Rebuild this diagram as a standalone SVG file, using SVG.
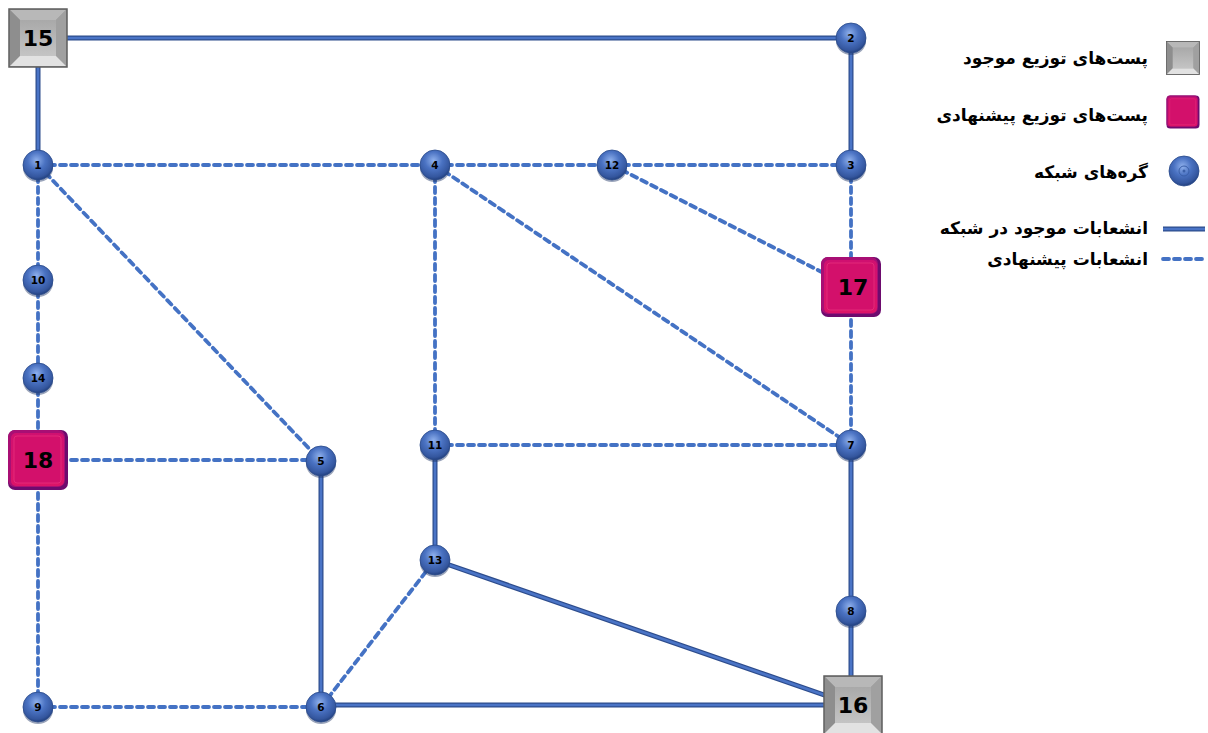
<svg xmlns="http://www.w3.org/2000/svg" width="1208" height="733" viewBox="0 0 1208 733">
<style>
.solid-o{stroke:#2d4c8c;stroke-width:5;fill:none}
.solid{stroke:#4a74c6;stroke-width:2.6;fill:none}
.dash{stroke:#4472c4;stroke-width:3.8;fill:none;stroke-dasharray:6 5;stroke-linecap:round}
.nl{font-family:"DejaVu Sans",sans-serif;font-weight:bold;font-size:10.5px;fill:#000;text-anchor:middle}
.sl{font-family:"DejaVu Sans",sans-serif;font-weight:bold;font-size:22px;fill:#000;text-anchor:middle}
.lg{font-family:"DejaVu Sans","Noto Sans",sans-serif;font-weight:bold;font-size:17px;fill:#000;text-anchor:end}
</style>
<defs>
<radialGradient id="ball" cx="0.45" cy="0.35" r="0.65">
<stop offset="0" stop-color="#8fb0ec"/>
<stop offset="0.45" stop-color="#4a72c2"/>
<stop offset="0.85" stop-color="#34569e"/>
<stop offset="1" stop-color="#22407e"/>
</radialGradient>
<linearGradient id="gface" x1="0" y1="0" x2="0" y2="1">
<stop offset="0" stop-color="#a9a9a9"/>
<stop offset="1" stop-color="#c4c4c4"/>
</linearGradient>
<linearGradient id="mface" x1="0" y1="0" x2="0" y2="1">
<stop offset="0" stop-color="#d01070"/>
<stop offset="1" stop-color="#dc1468"/>
</linearGradient>
<g id="node">
<ellipse cx="0" cy="3" rx="15" ry="14" fill="#1f3566" opacity="0.45"/>
<circle r="15" fill="url(#ball)" stroke="#2a4a8a" stroke-width="0.8"/>
</g>
<g id="gsq">
<rect x="-29" y="-29" width="58" height="58" fill="#9a9a9a" stroke="#5e5e5e" stroke-width="1.5"/>
<polygon points="-28,-28 28,-28 18,-18 -18,-18" fill="#b8b8b8"/>
<polygon points="-28,-28 -18,-18 -18,18 -28,28" fill="#8e8e8e"/>
<polygon points="28,-28 28,28 18,18 18,-18" fill="#a0a0a0"/>
<polygon points="-28,28 28,28 18,18 -18,18" fill="#e2e2e2"/>
<rect x="-18" y="-18" width="36" height="36" fill="url(#gface)"/>
</g>
<g id="msq">
<rect x="-30" y="-30" width="60" height="60" rx="7" fill="#6d0b6e"/>
<rect x="-30" y="-30" width="57" height="57" rx="7" fill="#a80f74"/>
<rect x="-27" y="-27" width="53" height="53" rx="5" fill="url(#mface)"/>
<rect x="-24" y="-24" width="47" height="47" rx="3" fill="#d3106b" stroke="#e8307e" stroke-width="0.8"/>
</g>
</defs>
<rect width="1208" height="733" fill="#fff"/>
<g id="connectors">
<g>
<path class="solid-o" d="M38,38H851M38,38V165M851,38V165M435,445V560M435,560L853,705M321,705H853M321,461V707M851,445V611M851,611V705"/>
<path class="solid" d="M38,38H851M38,38V165M851,38V165M435,445V560M435,560L853,705M321,705H853M321,461V707M851,445V611M851,611V705"/>
</g>
<path class="dash" d="M38,165H435M435,165H612M612,165H851M38,165V280M38,280V378M38,378V460M38,460V707M38,707H321M38,165L321,461M38,460H321M435,165V445M435,165L851,445M435,445H851M612,165L851,287M851,165V287M851,287V445M321,707L435,560"/>
</g>
<g id="n15"><use href="#gsq" x="38" y="38"/><text class="sl" x="38" y="46">15</text></g>
<g id="n16"><use href="#gsq" x="853" y="705"/><text class="sl" x="853" y="713">16</text></g>
<g id="n17"><use href="#msq" x="851" y="287"/><text class="sl" x="853" y="295">17</text></g>
<g id="n18"><use href="#msq" x="38" y="460"/><text class="sl" x="38" y="468">18</text></g>
<g id="n1"><use href="#node" x="38" y="165"/><text class="nl" x="38" y="169">1</text></g>
<g id="n2"><use href="#node" x="851" y="38"/><text class="nl" x="851" y="42">2</text></g>
<g id="n3"><use href="#node" x="851" y="165"/><text class="nl" x="851" y="169">3</text></g>
<g id="n4"><use href="#node" x="435" y="165"/><text class="nl" x="435" y="169">4</text></g>
<g id="n5"><use href="#node" x="321" y="461"/><text class="nl" x="321" y="465">5</text></g>
<g id="n6"><use href="#node" x="321" y="707"/><text class="nl" x="321" y="711">6</text></g>
<g id="n7"><use href="#node" x="851" y="445"/><text class="nl" x="851" y="449">7</text></g>
<g id="n8"><use href="#node" x="851" y="611"/><text class="nl" x="851" y="615">8</text></g>
<g id="n9"><use href="#node" x="38" y="707"/><text class="nl" x="38" y="711">9</text></g>
<g id="n10"><use href="#node" x="38" y="280"/><text class="nl" x="38" y="284">10</text></g>
<g id="n11"><use href="#node" x="435" y="445"/><text class="nl" x="435" y="449">11</text></g>
<g id="n12"><use href="#node" x="612" y="165"/><text class="nl" x="612" y="169">12</text></g>
<g id="n13"><use href="#node" x="435" y="560"/><text class="nl" x="435" y="564">13</text></g>
<g id="n14"><use href="#node" x="38" y="378"/><text class="nl" x="38" y="382">14</text></g>
<g id="legend">
<g transform="translate(1183,58) scale(0.57)"><use href="#gsq"/></g>
<text class="lg" x="1148" y="64">پست‌های توزیع موجود</text>
<g transform="translate(1183,112) scale(0.55)"><use href="#msq"/></g>
<text class="lg" x="1148" y="121">پست‌های توزیع پیشنهادی</text>
<g transform="translate(1184,171)"><circle r="15" fill="url(#ball)" stroke="#2a4a8a" stroke-width="0.8"/><circle r="5" fill="none" stroke="#3a5fa8" stroke-width="1"/><circle r="1.5" fill="#3a5fa8"/></g>
<text class="lg" x="1148" y="178">گره‌های شبکه</text>
<line class="solid-o" x1="1163" y1="229" x2="1205" y2="229"/>
<line class="solid" x1="1163" y1="229" x2="1205" y2="229"/>
<text class="lg" x="1148" y="234">انشعابات موجود در شبکه</text>
<line class="dash" x1="1163" y1="259" x2="1205" y2="259"/>
<text class="lg" x="1148" y="265">انشعابات پیشنهادی</text>
</g>
</svg>
